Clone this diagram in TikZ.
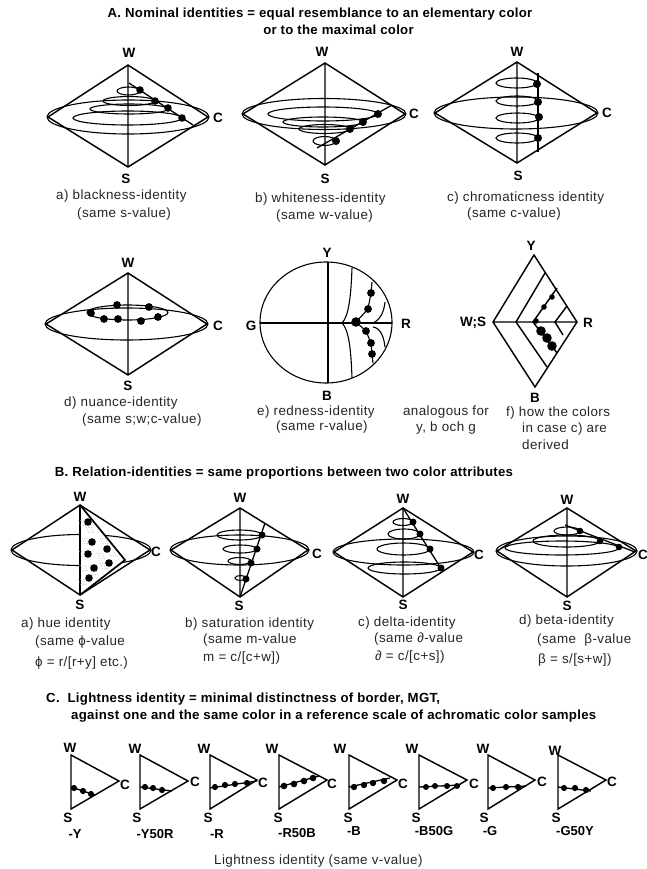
\documentclass[tikz,border=0pt]{standalone}
\usepackage{fontspec}
\setmainfont{Liberation Sans}
\newfontfamily\capfont[LetterSpace=3.2]{Liberation Sans}
\newfontfamily\ttlfont[LetterSpace=2.2]{Liberation Sans Bold}
\newcommand{\spindle}[8]{% prefix, x, wy, sy, lx, rx, my, ry
  \coordinate (#1W) at (#2,#3);
  \coordinate (#1S) at (#2,#4);
  \coordinate (#1L) at (#5,#7);
  \coordinate (#1R) at (#6,#7);
  \draw[spinbody] (#1W) -- (#1R) -- (#1S) -- (#1L) -- cycle (#1W) -- (#1S);
  \draw[ring] ({(#5+#6)/2},#7) ellipse ({(#6-#5)/2+1} and #8);
}
\newcommand{\hoop}[4]{\draw[ring] ({(#1+#2)/2},#3) ellipse ({(#2-#1)/2} and #4);}
\newcommand{\blobs}[2]{\foreach \p in {#2} \fill[black] \p circle (#1);}
\newcommand{\wedgefig}[5]{% prefix, x, cx, cy, dots
  \coordinate (#1W) at (#2,755);
  \coordinate (#1S) at (#2,809);
  \coordinate (#1C) at (#3,#4);
  \draw[spinbody] (#1W) -- (#1C) -- (#1S) -- cycle;
}
\tikzset{
  spinbody/.style={line width=1.45pt, line join=miter},
  ring/.style={line width=1.1pt},
  seam/.style={line width=1.3pt},
  captxt/.style={font=\fontsize{13.4}{15}\capfont, anchor=west, inner sep=0pt, text height=9pt, text depth=3pt, text=black!85},
  ttl/.style={font=\fontsize{13.2}{15}\ttlfont, inner sep=0pt, text height=9pt, text depth=3pt},
  vx/.style={font=\fontsize{13.5}{15}\bfseries\selectfont, inner sep=0pt},
  tagtxt/.style={font=\fontsize{13}{15}\bfseries\selectfont, inner sep=0pt},
}
\begin{document}
\begin{tikzpicture}[x=1pt,y=-1pt]
\useasboundingbox[fill=white] (0,0) rectangle (647,869);

% titles
\node[ttl] (tA1) at (320,15) {A. Nominal identities = equal resemblance to an elementary color};
\node[ttl] (tA2) at (338.5,32) {or to the maximal color};
\node[ttl] (tB) at (284,473) {B. Relation-identities = same proportions between two color attributes};
\node[ttl,anchor=west] (tC1) at (46,699) {C.\ \ Lightness identity = minimal distinctness of border, MGT,};
\node[ttl,anchor=west] (tC2) at (71,716) {against one and the same color in a reference scale of achromatic color samples};

% A a
\spindle{aa}{128}{65}{167}{48}{208}{117}{17}
\hoop{117}{140}{91}{4}\hoop{103}{155}{101}{4.5}\hoop{90}{168}{109}{5}\hoop{73}{182}{118}{7}
\coordinate (aaP) at (129,83); \coordinate (aaQ) at (193,125);
\draw[seam] (aaP) -- (aaQ);
\blobs{3.8}{(140,90),(155,101),(168,108),(182,118)}
\node[vx] (aaw) at (129,53) {W}; \node[vx] (aac) at (218,118) {C}; \node[vx] (aas) at (126,179) {S};
\node[captxt] (aat1) at (56,197) {a) blackness-identity};
\node[captxt] (aat2) at (77,214) {(same s-value)};

% A b
\spindle{ab}{325}{63}{165}{243}{405}{114}{15.5}
\hoop{268}{378}{114}{7}\hoop{283}{363}{122}{5}\hoop{299}{350}{129}{4.5}\hoop{313}{336}{141}{4.5}
\coordinate (abP) at (392,105); \coordinate (abQ) at (317,148);
\draw[seam] (abP) -- (abQ);
\blobs{4}{(378,114),(363,122),(350,129),(336,141)}
\node[vx] (abw) at (322,52) {W}; \node[vx] (abc) at (414,114) {C}; \node[vx] (abs) at (325,179) {S};
\node[captxt] (abt1) at (255,199) {b) whiteness-identity};
\node[captxt] (abt2) at (276,216) {(same w-value)};

% A c
\spindle{ac}{517}{62}{163}{435}{597}{113}{16}
\hoop{496}{537}{83}{5}\hoop{496}{538}{101}{5}\hoop{496}{539}{118}{5}\hoop{496}{538}{138}{5}
\coordinate (acP) at (538,73); \coordinate (acQ) at (538,152);
\draw[seam] (acP) -- (acQ);
\blobs{4}{(537,84),(538,102),(539,117),(538,138)}
\node[vx] (acw) at (517,52) {W}; \node[vx] (acc) at (607,113) {C}; \node[vx] (acs) at (518,176) {S};
\node[captxt] (act1) at (447,198) {c) chromaticness identity};
\node[captxt] (act2) at (467,214) {(same c-value)};

% A d
\spindle{ad}{128}{273}{375}{46}{207}{324}{16}
\hoop{87}{168}{312.5}{7.5}
\blobs{3.9}{(117,305),(149,307),(91,313),(104,319),(118,319),(141,321),(158,317)}
\node[vx] (adw) at (128,263) {W}; \node[vx] (adc) at (218,326) {C}; \node[vx] (ads) at (128,386) {S};
\node[captxt] (adt1) at (64,403) {d) nuance-identity};
\node[captxt] (adt2) at (82,420) {(same s;w;c-value)};

% A e
\draw[ring] (326,322.5) ellipse (66 and 60.5);
\coordinate (aeT) at (328,262); \coordinate (aeB) at (328,383);
\coordinate (aeG) at (260,323); \coordinate (aeRr) at (392,323);
\draw[spinbody] (aeT) -- (aeB) (aeG) -- (aeRr);
\draw[ring] (342,323) .. controls (349,316) and (351,295) .. (352,268);
\draw[ring] (342,323) .. controls (349,330) and (351,350) .. (352,378);
\draw[ring] (356,322) -- (368,309) -- (371,293) -- (372,282);
\draw[ring] (356,322) -- (366,331) -- (371,343) -- (372,354) -- (373,363);
\draw[ring] (373,323) .. controls (380,320) and (384,312) .. (385,302);
\draw[ring] (373,327) .. controls (381,328) and (384,338) .. (385,347);
\fill (356,322) circle (4.8);
\blobs{3.9}{(368,309),(371,293),(366,331),(371,343),(372,354)}
\node[vx] (aey) at (327,253) {Y}; \node[vx] (aeg) at (251,326) {G}; \node[vx] (aer) at (406,324) {R}; \node[vx] (aeb) at (327,396) {B};
\node[captxt] (aet1) at (257,412) {e) redness-identity};
\node[captxt] (aet2) at (276,427) {(same r-value)};
\node[captxt,anchor=center] (ana1) at (446,412) {analogous for};
\node[captxt,anchor=center] (ana2) at (446,428) {y, b och g};

% A f
\coordinate (afY) at (534,255); \coordinate (afB) at (535,387);
\coordinate (afL) at (493,322); \coordinate (afR) at (577,322);
\draw[spinbody] (afY) -- (afR) -- (afB) -- (afL) -- cycle (afL) -- (afR);
\coordinate (af1) at (516,322); \coordinate (af2) at (533,322); \coordinate (af3) at (555,322);
\draw[spinbody] (545,273) -- (af1) -- (547,367);
\draw[spinbody] (557,288) -- (af2) -- (557,353);
\draw[spinbody] (567,306) -- (af3) -- (563,335);
\blobs{2.8}{(536,321),(544,307),(552,297)}
\blobs{4.8}{(541,331),(547,338),(552,346)}
\node[vx] (afy) at (531,246) {Y}; \node[vx] (afws) at (473,323) {W;S}; \node[vx] (afr) at (588,323) {R}; \node[vx] (afb) at (535,398) {B};
\node[captxt] (aft1) at (506,413) {f) how the colors};
\node[captxt] (aft2) at (522,429) {in case c) are};
\node[captxt] (aft3) at (522,446) {derived};

% B a
\spindle{ba}{80}{505}{595}{12}{150}{550}{15.5}
\coordinate (baA) at (125,560);
\fill[white] (baW) -- (baA) -- (baS) -- cycle;
\draw[spinbody] (baS) -- (baW);
\draw[line width=1.7pt] (baW) -- (baA) -- (baS);
\foreach \cx/\cy in {82/523,86/541,104/541,83/554,101/556,84/568,104/566,82/582,94/572,112/553,90/530}
  \foreach \i in {-2.4,0,2.4} \foreach \j in {-2.4,0,2.4}
    \fill[black!40] ({\cx+\i+0.5*\j},{\cy+\j}) circle (0.42);
\blobs{3.8}{(88,522),(92,542),(88,554),(107,549),(109,563),(94,568),(89,578)}
\node[vx] (baw) at (80,497) {W}; \node[vx] (bac) at (156,552) {C}; \node[vx] (bas) at (80,605) {S};
\node[captxt] (bat1) at (21,624) {a) hue identity};
\node[captxt] (bat2) at (35,642) {(same ϕ-value};
\node[captxt] (bat3) at (35,663) {ϕ = r/[r+y] etc.)};

% B b
\spindle{bb}{240}{508}{597}{171}{308}{550}{15}
\hoop{217}{262}{535}{5}\hoop{223}{257}{549}{4}\hoop{228}{251}{561}{3.5}\hoop{235}{246}{578}{2.5}
\coordinate (bbQ) at (265,523);
\draw[seam] (bbS) -- (bbQ);
\blobs{3.5}{(262,535),(257,549),(251,563),(246,579)}
\node[vx] (bbw) at (240,498) {W}; \node[vx] (bbc) at (317,554) {C}; \node[vx] (bbs) at (239,606) {S};
\node[captxt] (bbt1) at (185,624) {b) saturation identity};
\node[captxt] (bbt2) at (203,640) {(same m-value};
\node[captxt] (bbt3) at (203,658) {m = c/[c+w])};

% B c
\spindle{bc}{403}{508}{597}{334}{473}{552}{13}
\hoop{393}{413}{522}{3.5}\hoop{388}{420}{534}{5}\hoop{377}{430}{549}{6}\hoop{368}{441}{568}{6}
\coordinate (bcQ) at (442,570);
\draw[seam] (bcW) -- (bcQ);
\blobs{3.5}{(413,522),(420,534),(430,549),(441,568)}
\node[vx] (bcw) at (403,499) {W}; \node[vx] (bcc) at (479,555) {C}; \node[vx] (bcs) at (403,605) {S};
\node[captxt] (bct1) at (358,623) {c) delta-identity};
\node[captxt] (bct2) at (374,639) {(same ∂-value};
\node[captxt] (bct3) at (375,657) {∂ = c/[c+s])};

% B d
\spindle{bd}{567}{508}{597}{497}{636}{551}{15}
\hoop{554}{580}{531}{4}\hoop{533}{600}{541}{6}\hoop{505}{619}{548}{7}
\coordinate (bdP) at (565,525); \coordinate (bdQ) at (635,552);
\draw[seam] (bdP) -- (bdQ);
\blobs{3.3}{(580,531),(600,541),(619,547)}
\node[vx] (bdw) at (567,500) {W}; \node[vx] (bdc) at (643,555) {C}; \node[vx] (bds) at (567,606) {S};
\node[captxt] (bdt1) at (519,621) {d) beta-identity};
\node[captxt] (bdt2) at (537,640) {(same\ \ β-value};
\node[captxt] (bdt3) at (538,660) {β = s/[s+w])};

% C wedges
\wedgefig{ca}{71}{119}{781}{}
\coordinate (caP) at (71,787); \coordinate (caQ) at (95,795);
\draw[seam] (caP) -- (caQ);
\blobs{3.1}{(74,788),(83,791),(91,794)}
\node[vx] (caw) at (70,748) {W}; \node[vx] (cac) at (125,785) {C}; \node[vx] (cas) at (68,818) {S};
\node[tagtxt] (cat) at (75,834) {-Y};

\wedgefig{cb}{140}{188}{781}{}
\coordinate (cbP) at (140,787); \coordinate (cbQ) at (172,791);
\draw[seam] (cbP) -- (cbQ);
\blobs{3.1}{(145,787),(153,788),(162,790)}
\node[vx] (cbw) at (135,749) {W}; \node[vx] (cbc) at (195,782) {C}; \node[vx] (cbs) at (137,818) {S};
\node[tagtxt] (cbt) at (155,834) {-Y50R};

\wedgefig{cc}{210}{257}{780}{}
\coordinate (ccP) at (210,788); \coordinate (ccQ) at (257,781);
\draw[seam] (ccP) -- (ccQ);
\blobs{3.1}{(215,787),(225,785),(235,784),(247,783)}
\node[vx] (ccw) at (204,749) {W}; \node[vx] (ccc) at (263,783) {C}; \node[vx] (ccs) at (208,818) {S};
\node[tagtxt] (cct) at (217,834) {-R};

\wedgefig{cd}{279}{327}{780}{}
\coordinate (cdP) at (279,787); \coordinate (cdQ) at (319,776);
\draw[seam] (cdP) -- (cdQ);
\blobs{3.3}{(284,786),(294,784),(304,781),(313,778)}
\node[vx] (cdw) at (272,749) {W}; \node[vx] (cdc) at (332,784) {C}; \node[vx] (cds) at (278,818) {S};
\node[tagtxt] (cdt) at (297,833) {-R50B};

\wedgefig{ce}{349}{397}{780}{}
\coordinate (ceP) at (349,787); \coordinate (ceQ) at (390,778);
\draw[seam] (ceP) -- (ceQ);
\blobs{3.2}{(354,787),(364,785),(373,783),(384,781)}
\node[vx] (cew) at (340,749) {W}; \node[vx] (cec) at (403,784) {C}; \node[vx] (ces) at (348,818) {S};
\node[tagtxt] (cet) at (354,831) {-B};

\wedgefig{cf}{419}{467}{780}{}
\coordinate (cfP) at (419,787); \coordinate (cfQ) at (460,785);
\draw[seam] (cfP) -- (cfQ);
\blobs{3}{(426,787),(435,786),(447,786),(457,786)}
\node[vx] (cfw) at (412,749) {W}; \node[vx] (cfc) at (474,784) {C}; \node[vx] (cfs) at (416,818) {S};
\node[tagtxt] (cft) at (434,831) {-B50G};

\wedgefig{cg}{488}{535}{780}{}
\coordinate (cgP) at (488,788); \coordinate (cgQ) at (526,786);
\draw[seam] (cgP) -- (cgQ);
\blobs{3.1}{(493,788),(506,787),(518,787)}
\node[vx] (cgw) at (483,749) {W}; \node[vx] (cgc) at (542,782) {C}; \node[vx] (cgs) at (484,818) {S};
\node[tagtxt] (cgt) at (490,831) {-G};

\wedgefig{ch}{558}{606}{780}{}
\coordinate (chP) at (558,787); \coordinate (chQ) at (591,791);
\draw[seam] (chP) -- (chQ);
\blobs{3.1}{(564,788),(575,788),(586,790)}
\node[vx] (chw) at (555,751) {W}; \node[vx] (chc) at (612,782) {C}; \node[vx] (chs) at (556,818) {S};
\node[tagtxt] (cht) at (575,831) {-G50Y};

\node[captxt] (lt) at (214,861) {Lightness identity (same v-value)};
\end{tikzpicture}
\end{document}
